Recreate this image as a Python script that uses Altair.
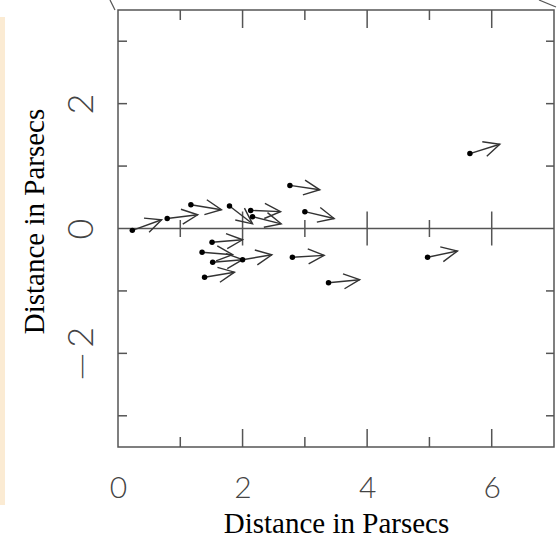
import altair as alt
import pandas as pd
import numpy as np

# star positions (start of arrow) and arrow tips, in parsecs
x_start = [0.23, 0.79, 1.17, 1.79, 2.13, 2.16, 1.51, 1.35, 1.52, 2.00, 1.39, 2.76, 3.00, 2.80, 3.38, 5.65, 4.97]
y_start = [-0.03, 0.16, 0.38, 0.36, 0.29, 0.19, -0.22, -0.38, -0.54, -0.50, -0.78, 0.69, 0.27, -0.46, -0.87, 1.20, -0.46]
x_end = [0.70, 1.28, 1.66, 2.16, 2.61, 2.62, 2.00, 1.84, 2.00, 2.47, 1.87, 3.24, 3.47, 3.31, 3.88, 6.13, 5.45]
y_end = [0.14, 0.22, 0.30, 0.075, 0.27, 0.075, -0.18, -0.42, -0.50, -0.42, -0.70, 0.62, 0.16, -0.43, -0.82, 1.35, -0.36]

x_labels = [0, 2, 4, 6]
y_labels = [-2, 0, 2]
x_major = [2, 4, 6]
x_minor = [1, 3, 5]
y_ticks = [-3, -2, -1, 1, 2, 3]
zero_line = [0]

W, H = 436, 437
FRAME = "#555555"
INK = "#333333"

df = pd.DataFrame({"x0": x_start, "y0": y_start, "x1": x_end, "y1": y_end})
df["angle"] = np.degrees(np.arctan2(-(df["y1"] - df["y0"]), df["x1"] - df["x0"])) % 360

xs = alt.Scale(domain=[0, 7], nice=False, zero=False)
ys = alt.Scale(domain=[-3.5, 3.5], nice=False, zero=False)

xaxis = alt.Axis(values=x_labels, title="Distance in Parsecs", grid=False, ticks=False, tickSize=0,
                 domain=False, labelFont="Lato", labelFontWeight=300, labelFontSize=30,
                 labelColor="#444444", labelBaseline="alphabetic", labelPadding=50,
                 labelFlush=False, labelOverlap=False,
                 titleFont="Liberation Serif", titleFontSize=29, titleFontWeight="normal",
                 titleColor="black", titleY=85, titleBaseline="alphabetic")
yaxis = alt.Axis(values=y_labels, title="Distance in Parsecs", grid=False, ticks=False, tickSize=0,
                 domain=False, labelFont="Lato", labelFontWeight=300, labelFontSize=36,
                 labelColor="#444444", labelAngle=270, labelAlign="center", labelBaseline="bottom",
                 labelPadding=18, labelFlush=False, labelOverlap=False,
                 labelExpr="datum.value < 0 ? '\u2014\u2009' + abs(datum.value) : datum.label",
                 titleFont="Liberation Serif", titleFontSize=29, titleFontWeight="normal",
                 titleColor="black", titleAngle=270, titleX=-75, titleY=211,
                 titleAlign="center", titleBaseline="alphabetic")

def X(f):
    return alt.X(f, scale=xs, axis=xaxis)

def Y(f):
    return alt.Y(f, scale=ys, axis=yaxis)

one = pd.DataFrame({"k": [0]})

strip = alt.Chart(one).mark_rect(color="#FBEBD3").encode(
    x=alt.value(-118), x2=alt.value(-113), y=alt.value(7), y2=alt.value(495))
stray1 = alt.Chart(one).mark_rule(color=FRAME, strokeWidth=1.2).encode(
    x=alt.value(-8), y=alt.value(-10), x2=alt.value(-3), y2=alt.value(0))
stray2 = alt.Chart(one).mark_rule(color=FRAME, strokeWidth=1.2).encode(
    x=alt.value(421), y=alt.value(-10), x2=alt.value(438), y2=alt.value(-3))

zl = alt.Chart(pd.DataFrame({"v": zero_line})).mark_rule(color=FRAME, strokeWidth=1.5).encode(
    y=Y("v:Q"))

dmaj = pd.DataFrame({"t": x_major})
dmin = pd.DataFrame({"t": x_minor})
dy = pd.DataFrame({"t": y_ticks})

def xt(d, y, y2):
    return alt.Chart(d).mark_rule(color=FRAME, strokeWidth=1.5).encode(
        x=X("t:Q"), y=alt.value(y), y2=alt.value(y2))

bot_maj = xt(dmaj, H, H - 18)
bot_min = xt(dmin, H, H - 10)
top_maj = xt(dmaj, 0, 18)
top_min = xt(dmin, 0, 10)
left_t = alt.Chart(dy).mark_rule(color=FRAME, strokeWidth=1.5).encode(
    y=Y("t:Q"), x=alt.value(0), x2=alt.value(9))
right_t = alt.Chart(dy).mark_rule(color=FRAME, strokeWidth=1.5).encode(
    y=Y("t:Q"), x=alt.value(W), x2=alt.value(W - 8))

zdf_maj = pd.DataFrame({"t": x_major, "z": [0] * len(x_major)})
zdf_min = pd.DataFrame({"t": x_minor, "z": [0] * len(x_minor)})
z_maj = alt.Chart(zdf_maj).mark_tick(orient="vertical", size=34, thickness=1.5, color=FRAME, opacity=1).encode(
    x=X("t:Q"), y=Y("z:Q"))
z_min = alt.Chart(zdf_min).mark_tick(orient="vertical", size=17, thickness=1.5, color=FRAME, opacity=1).encode(
    x=X("t:Q"), y=Y("z:Q"))

shafts = alt.Chart(df).mark_rule(color=INK, strokeWidth=1.4).encode(
    x=X("x0:Q"), y=Y("y0:Q"), x2="x1:Q", y2="y1:Q")
heads = alt.Chart(df).mark_point(shape="M -1 -0.47 L 0 0 L -1 0.47", filled=False, size=1024,
                                  strokeWidth=1.4, color=INK, opacity=1).encode(
    x=X("x1:Q"), y=Y("y1:Q"), angle=alt.Angle("angle:Q", scale=None))
dots = alt.Chart(df).mark_circle(size=30, color="black", opacity=1).encode(
    x=X("x0:Q"), y=Y("y0:Q"))

chart = alt.layer(strip, stray1, stray2, zl, bot_maj, bot_min, top_maj, top_min, left_t, right_t,
                  z_maj, z_min, shafts, heads, dots).properties(
    width=W, height=H, autosize="none",
    padding={"left": 118, "top": 10, "right": 5, "bottom": 90},
    background="white",
).configure_view(stroke=FRAME, strokeWidth=1.5)

chart.save("out.html", embed_options={"renderer": "svg", "actions": False})
